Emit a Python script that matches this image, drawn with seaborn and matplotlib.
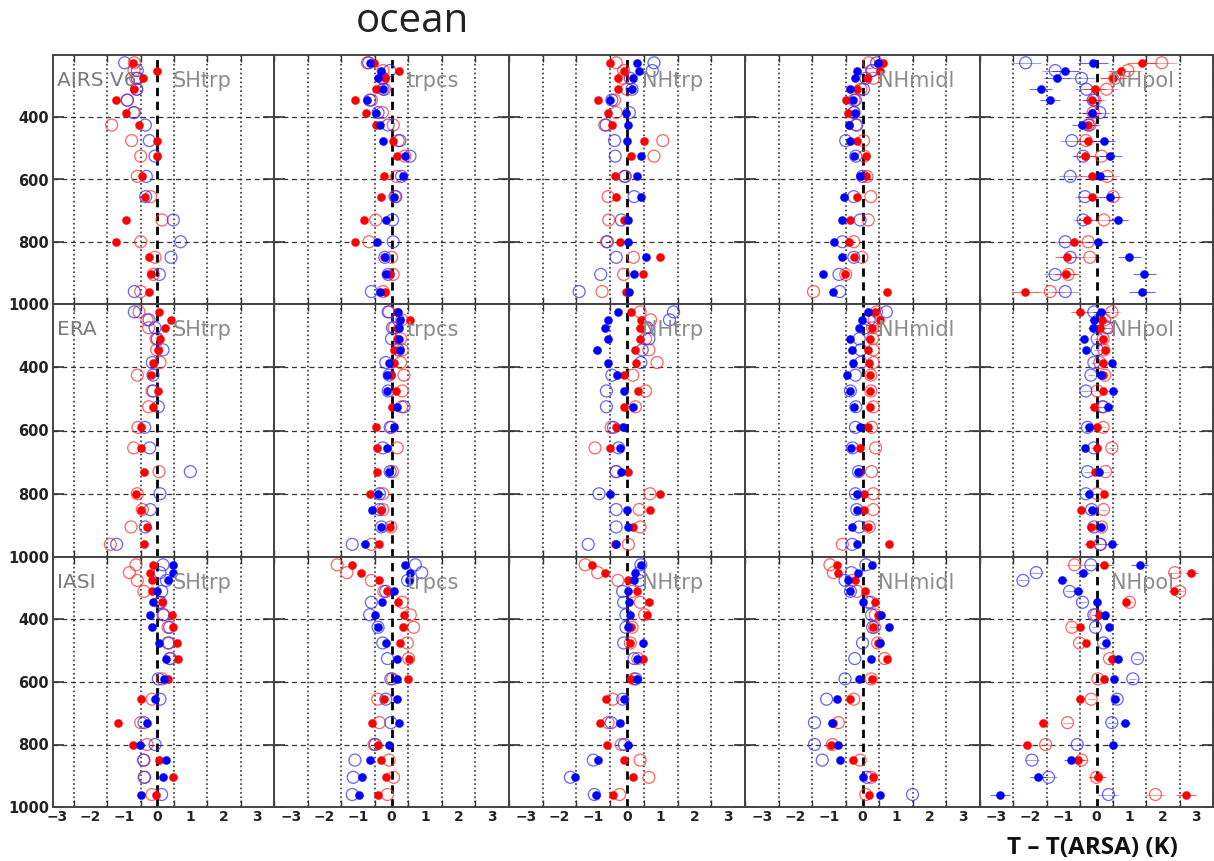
import numpy as np
import pandas as pd
import matplotlib
matplotlib.use("Agg")
import matplotlib.pyplot as plt
import seaborn as sns

nan = np.nan

# pressure levels (hPa) of the profile points
levels = [225, 250, 275, 310, 345, 385, 425, 475, 525, 590, 655, 730, 800, 850, 905, 960]

# fr/fb = filled red/blue, ro/bo = open red/blue  (T - T(ARSA), K)
# ---- AIRS V6
airs_shtrp = dict(
    fr=[-0.74, 0.0, -0.42, -0.70, -1.25, -0.93, -0.55, 0.0, 0.0, -0.45, -0.38, -0.93, -1.25, -0.24, -0.18, -0.26],
    fb=[nan] * 16,
    ro=[-0.69, -0.70, -0.65, -0.62, -0.90, -0.72, -1.37, -0.77, -0.50, -0.60, -0.20, 0.14, -0.50, -0.07, -0.12, -0.50],
    bo=[-0.98, -0.60, -0.60, -0.62, -0.90, -0.69, -0.36, -0.24, -0.07, -0.33, -0.35, 0.48, 0.70, 0.41, 0.06, -0.69],
)
airs_trpcs = dict(
    fr=[-0.52, 0.23, -0.20, -0.45, -1.10, -0.75, -0.45, 0.03, 0.15, -0.23, -0.30, -0.83, -1.10, -0.23, -0.05, -0.20],
    fb=[-0.65, -0.32, -0.40, -0.25, -0.73, -0.45, -0.33, -0.25, 0.40, 0.33, 0.07, -0.15, -0.43, -0.20, -0.15, -0.35],
    ro=[-0.72, -0.25, -0.25, -0.20, -0.60, -0.27, 0.05, 0.20, 0.40, 0.15, 0.10, -0.47, -0.67, 0.00, 0.05, -0.25],
    bo=[-0.68, -0.05, -0.25, -0.25, -0.65, -0.40, -0.10, 0.25, 0.55, 0.30, 0.13, 0.03, 0.05, -0.20, -0.10, -0.60],
)
airs_nhtrp = dict(
    fr=[-0.51, -0.08, -0.27, -0.27, -0.87, -0.56, -0.44, 0.50, 0.12, -0.37, -0.32, -0.10, -0.20, 0.99, 0.46, -0.03],
    fb=[0.29, 0.36, 0.19, 0.14, -0.51, -0.03, 0.02, 0.00, 0.41, 0.31, 0.41, 0.02, 0.02, 0.55, 0.21, 0.05],
    ro=[-0.32, -0.10, -0.13, 0.00, -0.37, -0.32, -0.66, 1.06, 0.80, -0.08, -0.56, -0.54, -0.61, 0.19, -0.10, -0.74],
    bo=[0.80, 0.75, 0.10, 0.15, -0.45, 0.07, -0.62, -0.37, -0.35, -0.05, 0.21, -0.17, -0.58, -0.32, -0.78, -1.42],
)
airs_nhmidl = dict(
    fr=[0.61, 0.51, 0.13, -0.17, -0.50, -0.43, -0.39, -0.17, 0.10, 0.10, -0.17, -0.38, -0.39, -0.26, -0.52, 0.74],
    fb=[0.47, -0.17, -0.21, -0.36, -0.29, -0.21, -0.40, -0.36, -0.26, -0.07, -0.55, -0.60, -0.84, -0.60, -1.17, -0.87],
    ro=[0.19, 0.30, 0.32, -0.05, -0.25, -0.25, -0.20, 0.03, 0.05, 0.13, 0.25, 0.17, -0.26, -0.02, -0.50, -1.46],
    bo=[0.42, 0.27, 0.10, 0.03, -0.21, -0.26, -0.17, -0.50, -0.20, 0.00, -0.26, -0.07, -0.60, -0.26, -0.70, -0.68],
)
airs_nhpol = dict(
    fr=[1.37, 0.74, 0.50, -0.05, -0.15, -0.15, -0.25, -0.25, -0.35, -0.15, -0.15, -0.30, -0.69, -0.89, -0.91, -2.16],
    fb=[-0.10, -0.94, -1.19, -1.68, -1.39, -0.15, -0.45, 0.22, 0.42, 0.10, 0.40, 0.64, 0.05, 0.99, 1.44, 1.37],
    ro=[1.96, 0.94, 0.55, 0.30, -0.05, -0.10, -0.20, -0.32, 0.15, 0.32, 0.50, 0.22, -0.25, -0.20, -0.85, -1.39],
    bo=[-2.13, -1.24, -0.45, -0.30, -0.10, 0.10, -0.25, -0.74, -0.40, -0.79, -0.35, -0.40, -0.94, -0.79, -1.24, -0.94],
)

# ---- ERA
era_shtrp = dict(
    fr=[0.06, 0.41, 0.22, 0.08, 0.03, -0.12, -0.19, 0.03, -0.13, -0.50, -0.48, -0.40, -0.64, -0.48, -0.31, -0.40],
    fb=[nan] * 16,
    ro=[-0.55, -0.31, -0.26, -0.04, -0.02, 0.08, -0.60, -0.16, -0.26, -0.58, -0.71, 0.05, -0.60, -0.45, -0.79, -1.41],
    bo=[-0.69, -0.25, -0.07, 0.00, 0.17, -0.15, -0.13, -0.12, 0.03, -0.38, -0.23, 0.99, 0.08, -0.21, -0.36, -1.22],
)
era_trpcs = dict(
    fr=[0.16, 0.56, 0.17, 0.17, 0.08, 0.08, -0.02, 0.13, 0.00, -0.46, -0.43, -0.43, -0.65, -0.31, -0.04, -0.36],
    fb=[0.19, 0.25, 0.22, 0.22, 0.25, -0.07, -0.12, -0.12, 0.17, 0.08, -0.12, -0.07, -0.41, -0.58, -0.31, -0.80],
    ro=[-0.07, 0.30, 0.08, 0.27, 0.32, 0.27, 0.37, 0.32, 0.30, 0.00, 0.17, 0.03, -0.26, -0.26, -0.02, -0.60],
    bo=[-0.10, 0.20, 0.03, 0.00, 0.20, -0.17, -0.07, -0.10, 0.37, -0.04, -0.26, -0.04, -0.36, -0.36, -0.30, -1.17],
)
era_nhtrp = dict(
    fr=[0.12, 0.41, 0.39, 0.39, 0.23, 0.26, -0.10, 0.33, -0.08, -0.32, -0.51, 0.02, 0.97, 0.68, 0.19, -0.37],
    fb=[-0.27, -0.56, -0.64, -0.56, -0.90, -0.56, -0.29, -0.08, 0.19, -0.13, -0.22, -0.17, -0.51, 0.00, 0.02, -0.32],
    ro=[0.39, 0.70, 0.55, 0.55, 0.65, 0.89, 0.17, 0.55, 0.25, -0.47, -0.95, -0.32, 0.68, 0.36, 0.39, 0.04],
    bo=[1.38, 1.26, 0.60, 0.65, 0.45, 0.41, -0.45, -0.61, -0.61, -0.40, -0.25, -0.32, -0.83, -0.32, -0.32, -1.15],
)
era_nhmidl = dict(
    fr=[0.37, 0.51, 0.27, 0.22, 0.16, 0.19, 0.22, 0.22, 0.22, 0.16, -0.07, -0.10, 0.03, 0.03, 0.17, 0.78],
    fb=[0.15, -0.02, -0.10, -0.36, -0.31, -0.29, -0.46, -0.36, -0.26, -0.07, -0.33, -0.12, -0.15, -0.15, -0.31, -0.17],
    ro=[0.42, 0.35, 0.30, 0.30, 0.32, 0.32, 0.25, 0.25, 0.32, 0.27, 0.39, 0.27, 0.32, 0.32, 0.20, -0.60],
    bo=[0.71, 0.20, 0.08, -0.10, -0.05, -0.05, -0.21, -0.36, -0.20, -0.21, -0.30, -0.12, -0.21, -0.17, -0.10, -0.31],
)
era_nhpol = dict(
    fr=[-0.51, 0.17, 0.10, 0.21, 0.26, 0.19, 0.19, 0.19, -0.08, 0.02, 0.00, -0.06, 0.23, -0.47, -0.17, -0.19],
    fb=[0.14, -0.08, -0.10, -0.39, -0.32, 0.46, 0.15, 0.49, 0.36, -0.22, -0.35, 0.07, -0.22, -0.13, 0.14, 0.46],
    ro=[0.46, 0.25, 0.30, 0.20, 0.22, 0.10, 0.25, 0.02, 0.22, 0.20, 0.46, 0.27, 0.02, 0.21, 0.15, 0.10],
    bo=[-0.08, 0.07, 0.36, 0.02, 0.02, -0.08, -0.17, -0.32, 0.17, -0.27, -0.08, -0.27, -0.32, -0.15, -0.08, 0.12],
)

# ---- IASI
iasi_shtrp = dict(
    fr=[-0.13, -0.21, -0.16, -0.16, 0.15, 0.44, 0.46, 0.58, 0.63, 0.32, -0.50, -1.19, -0.74, 0.06, 0.46, -0.05],
    fb=[0.48, 0.46, 0.32, -0.02, -0.13, -0.23, -0.16, 0.06, 0.27, 0.20, -0.07, -0.31, -0.52, 0.27, 0.17, -0.50],
    ro=[-0.64, -0.84, -0.60, -0.40, 0.10, 0.20, 0.32, 0.35, 0.40, 0.15, -0.16, -0.50, -0.31, -0.42, -0.40, -0.16],
    bo=[0.17, 0.08, 0.27, 0.13, 0.08, 0.17, 0.37, 0.32, 0.37, 0.03, 0.08, -0.40, -0.07, -0.40, -0.38, 0.13],
)
iasi_trpcs = dict(
    fr=[-1.18, -0.91, -0.36, -0.12, 0.19, 0.37, 0.35, 0.25, 0.51, 0.49, -0.21, -0.58, -0.41, -0.31, -0.17, -0.41],
    fb=[0.39, 0.56, 0.51, 0.08, -0.29, -0.49, -0.39, -0.17, 0.17, 0.16, 0.16, 0.22, -0.07, -0.65, -0.87, -0.97],
    ro=[-1.62, -1.33, -0.60, -0.23, 0.32, 0.56, 0.66, 0.47, 0.51, 0.03, -0.41, -0.36, -0.52, -0.07, 0.06, -0.12],
    bo=[0.71, 0.90, 0.48, -0.17, -0.60, -0.65, -0.40, -0.26, -0.12, -0.02, -0.17, -0.02, -0.48, -1.09, -1.14, -1.17],
)
iasi_nhtrp = dict(
    fr=[-1.05, -0.64, 0.04, 0.29, 0.65, 0.58, 0.12, 0.10, 0.46, 0.12, -0.61, -0.81, -0.58, -0.10, 0.19, -0.42],
    fb=[0.41, 0.23, 0.20, 0.04, 0.07, 0.10, 0.04, 0.46, 0.29, 0.29, -0.08, -0.22, 0.02, -0.87, -1.55, -0.93],
    ro=[-1.24, -0.87, -0.27, 0.15, 0.39, 0.52, 0.15, 0.10, 0.32, 0.20, -0.42, -0.56, -0.17, 0.39, 0.65, -0.22],
    bo=[0.41, 0.36, 0.36, -0.13, -0.10, -0.03, -0.03, -0.10, 0.21, 0.26, -0.13, -0.47, -0.08, -1.00, -1.68, -0.97],
)
iasi_nhmidl = dict(
    fr=[-0.75, -0.72, -0.23, 0.06, 0.37, 0.45, 0.32, 0.47, 0.74, 0.29, -0.36, -0.89, -0.94, -0.29, 0.32, 0.19],
    fb=[0.29, -0.14, -0.43, -0.36, 0.00, 0.54, 0.78, 0.51, 0.25, -0.10, -0.75, -0.92, -0.72, -0.68, 0.00, 0.51],
    ro=[-0.97, -0.87, -0.30, -0.17, 0.25, 0.38, 0.36, 0.45, 0.66, 0.26, -0.26, -0.72, -0.90, -0.07, 0.26, 0.10],
    bo=[0.10, -0.33, -0.52, -0.36, 0.18, 0.27, 0.30, 0.00, -0.23, -0.52, -1.07, -1.43, -1.43, -1.20, 0.13, 1.49],
)
iasi_nhpol = dict(
    fr=[0.23, 2.85, nan, 2.33, 0.89, 0.07, -0.51, -0.32, 0.46, 0.23, -0.51, -1.60, -2.10, -0.56, 0.04, 2.69],
    fb=[1.30, -0.42, -1.05, -0.56, 0.00, 0.26, 0.39, 0.29, 0.65, 0.52, 0.55, 0.87, 0.49, -0.78, -1.75, -2.89],
    ro=[-0.66, 2.35, nan, 2.50, 0.99, -0.02, -0.74, -0.51, 0.39, 0.04, -0.16, -0.87, -1.53, -0.45, 0.00, 1.77],
    bo=[-0.17, -1.81, -2.21, -0.81, -0.42, -0.08, -0.03, 0.21, 1.23, 1.09, 0.62, 0.46, -0.58, -1.94, -1.44, 0.36],
)

# rough half-widths of the horizontal error bars in the NHpol panels
airs_pol_err = [0.45, 0.4, 0.4, 0.35, 0.3, 0.3, 0.3, 0.35, 0.35, 0.35, 0.3, 0.3, 0.3, 0.35, 0.35, 0.4]
era_pol_err = [0.25, 0.15, 0.15, 0.1, 0.1, 0.1, 0.1, 0.15, 0.15, 0.1, 0.1, 0.1, 0.1, 0.1, 0.1, 0.2]
iasi_pol_err = [0.25, 0.2, 0.15, 0.15, 0.1, 0.1, 0.1, 0.1, 0.1, 0.1, 0.1, 0.15, 0.2, 0.2, 0.25, 0.3]

row_names = ["AIRS V6", "ERA", "IASI"]
regions = ["SHtrp", "trpcs", "NHtrp", "NHmidl", "NHpol"]
panels = [
    [airs_shtrp, airs_trpcs, airs_nhtrp, airs_nhmidl, airs_nhpol],
    [era_shtrp, era_trpcs, era_nhtrp, era_nhmidl, era_nhpol],
    [iasi_shtrp, iasi_trpcs, iasi_nhtrp, iasi_nhmidl, iasi_nhpol],
]
pol_errs = [airs_pol_err, era_pol_err, iasi_pol_err]

sns.set_style("white")
plt.rcParams["font.family"] = ["DejaVu Sans"]

# drawing order: open circles first, filled on top
styles = {
    "ro": dict(s=74, facecolors="none", edgecolor="#ff3030", linewidth=0.9, alpha=0.75),
    "bo": dict(s=74, facecolors="none", edgecolor="#3030ff", linewidth=0.9, alpha=0.75),
    "fr": dict(s=34, color="#ff0000", edgecolor="#ff0000", linewidth=0.3),
    "fb": dict(s=34, color="#0000ff", edgecolor="#0000ff", linewidth=0.3),
}
err_colors = {"ro": "#ff6060", "bo": "#6060ff", "fr": "#ff0000", "fb": "#0000ff"}

W, H = 1214, 861
fig = plt.figure(figsize=(W / 100, H / 100), dpi=100)

col_edges = [53, 274, 509, 745, 980, 1213]
row_edges = [55, 304, 557, 807]

for r in range(3):
    for c in range(5):
        x0, x1 = col_edges[c], col_edges[c + 1]
        y0, y1 = row_edges[r], row_edges[r + 1]
        ax = fig.add_axes([x0 / W, 1 - y1 / H, (x1 - x0) / W, (y1 - y0) / H])
        d = panels[r][c]

        for kind in ["ro", "bo", "fr", "fb"]:
            df = pd.DataFrame({"dT": d[kind], "p": levels})
            if c == 4:
                ok = df["dT"].notna()
                ax.errorbar(df["dT"][ok], df["p"][ok], xerr=np.array(pol_errs[r])[ok.values],
                            fmt="none", ecolor=err_colors[kind], elinewidth=0.8, alpha=0.6, zorder=2)
            sns.scatterplot(data=df, x="dT", y="p", ax=ax, marker="o", legend=False,
                            zorder=3, **styles[kind])

        ax.axvline(0, color="black", lw=2.0, ls=(0, (3, 2)), zorder=2.5)

        ax.set_xlabel("")
        ax.set_ylabel("")
        ax.set_xticks(range(-3, 4))
        ax.set_xticks(np.arange(-3.5, 3.6, 1.0), minor=True)
        ax.set_yticks([400, 600, 800, 1000])
        # limits after the ticks, so the tick lists do not widen the view
        ax.set_xlim(-3.13 if c == 0 else -3.5, 3.5)
        ax.set_ylim(1000, 200)

        ax.grid(False)
        ax.grid(True, which="minor", axis="x", color="#333333", ls=":", lw=1.2)
        for yy in [400, 600, 800]:
            ax.axhline(yy, color="#333333", lw=0.9, ls=(0, (4, 3)), zorder=1)

        ax.tick_params(axis="x", which="major", length=0, labelsize=10, pad=2)
        ax.tick_params(axis="x", which="minor", direction="in", length=5, width=1.0,
                       top=True, bottom=True, color="#333333")
        ax.tick_params(axis="y", which="major", direction="in", length=8, width=1.2,
                       left=True, right=True, labelsize=10.5, pad=3, color="#333333")

        if r < 2:
            ax.set_xticklabels([])
        else:
            for t in ax.get_xticklabels():
                t.set_fontweight("bold")
                t.set_color("#222222")
        if c > 0:
            ax.set_yticklabels([])
        else:
            for t in ax.get_yticklabels():
                t.set_fontweight("bold")
                t.set_color("#222222")

        for sp in ax.spines.values():
            sp.set_color("#444444")
            sp.set_linewidth(1.4)

        ax.text(0.45, 282, regions[c], fontsize=15, color="#8c8c8c", va="center", ha="left", zorder=4)
        if c == 0:
            ax.text(-3.0, 282, row_names[r], fontsize=14.5, color="#7a7a7a", va="center", ha="left", zorder=4)

fig.text(412 / W, 1 - 22 / H, "ocean", fontsize=29, family=["Open Sans", "DejaVu Sans"],
         ha="center", va="center", color="#222222")
fig.text(1092 / W, 1 - 848 / H, "T \u2013 T(ARSA) (K)", fontsize=17.5, fontweight="bold",
         family=["Open Sans", "DejaVu Sans"], ha="center", va="center", color="#111111")

fig.savefig("out.png", dpi=100)
plt.close(fig)
